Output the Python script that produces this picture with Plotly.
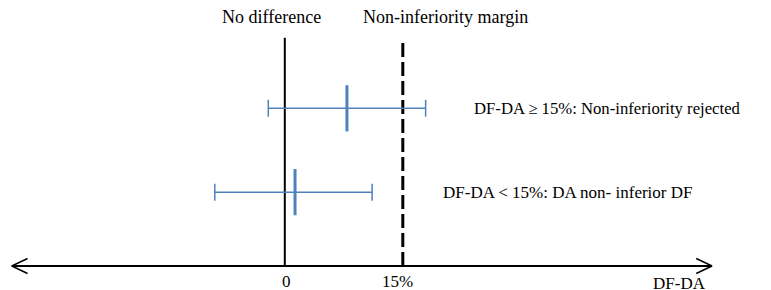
import plotly.graph_objects as go

# Data
row_labels = ["DF-DA ≥ 15%: Non-inferiority rejected", "DF-DA < 15%: DA non- inferior DF"]
row_pos = [1.9, 0.89]
point_est = [7.9, 1.3]
ci_low = [-2.1, -8.9]
ci_high = [17.9, 11.1]
margin = 15
tick_vals = [0, 15]
tick_text = ["0", "15%"]
axis_title = "DF-DA"

XMIN, XMAX = -36.2, 61.8
AX_L, AX_R = -34.7, 54.3
LINE_TOP = 2.75
blue = "#4F81BD"
font = "Liberation Serif"

fig = go.Figure()

# horizontal axis with open arrows
fig.add_trace(go.Scatter(x=[AX_L, AX_R], y=[0, 0], mode="lines",
                         line=dict(color="black", width=2), hoverinfo="skip"))
fig.add_trace(go.Scatter(x=[AX_L + 2.0, AX_L, AX_L + 2.0], y=[0.09, 0, -0.09], mode="lines",
                         line=dict(color="black", width=1.5), hoverinfo="skip"))
fig.add_trace(go.Scatter(x=[AX_R - 2.0, AX_R, AX_R - 2.0], y=[0.09, 0, -0.09], mode="lines",
                         line=dict(color="black", width=1.5), hoverinfo="skip"))

# no difference line
fig.add_trace(go.Scatter(x=[0, 0], y=[0, LINE_TOP], mode="lines",
                         line=dict(color="black", width=2), hoverinfo="skip"))
# margin line
fig.add_trace(go.Scatter(x=[margin, margin], y=[0, LINE_TOP - 0.02], mode="lines",
                         line=dict(color="black", width=3, dash="14px,5px"), hoverinfo="skip"))

# CIs
fig.add_trace(go.Scatter(
    x=point_est, y=row_pos, mode="markers",
    marker=dict(symbol="line-ns", size=33, color=blue, line=dict(color=blue, width=3)),
    error_x=dict(type="data", symmetric=False,
                 array=[h - p for h, p in zip(ci_high, point_est)],
                 arrayminus=[p - l for p, l in zip(point_est, ci_low)],
                 color=blue, thickness=1.5, width=8.5),
    hoverinfo="skip"))

annotations = []
annotations.append(dict(x=0, y=3.0, text="No difference", showarrow=False,
                        xanchor="center", yanchor="middle", xshift=-13, font_size=18))
annotations.append(dict(x=margin, y=3.0, text="Non-inferiority margin", showarrow=False,
                        xanchor="center", yanchor="middle", xshift=43, font_size=18))
annotations.append(dict(x=23.8, y=row_pos[0], text=row_labels[0], showarrow=False,
                        xanchor="left", yanchor="middle", font_size=16.7))
annotations.append(dict(x=19.8, y=row_pos[1], text=row_labels[1], showarrow=False,
                        xanchor="left", yanchor="middle", font_size=17))
for v, t in zip(tick_vals, tick_text):
    annotations.append(dict(x=v, y=-0.19, text=t, showarrow=False,
                            xanchor="center", yanchor="middle", xshift=-5 if v else 2,
                            font_size=17))
annotations.append(dict(x=50.2, y=-0.21, text=axis_title, showarrow=False,
                        xanchor="center", yanchor="middle", font_size=17))
for a in annotations:
    a["font"] = dict(family=font, size=a.pop("font_size"), color="black")

fig.update_layout(
    width=771, height=290,
    margin=dict(l=0, r=0, t=0, b=0),
    paper_bgcolor="white", plot_bgcolor="white",
    showlegend=False,
    xaxis=dict(range=[XMIN, XMAX], visible=False, fixedrange=True),
    yaxis=dict(range=[-0.289, 3.205], visible=False, fixedrange=True),
    annotations=annotations,
)

fig.write_html("out.html", config={"displayModeBar": False},
               post_script="document.body.style.margin='0';document.body.style.overflow='hidden';")
